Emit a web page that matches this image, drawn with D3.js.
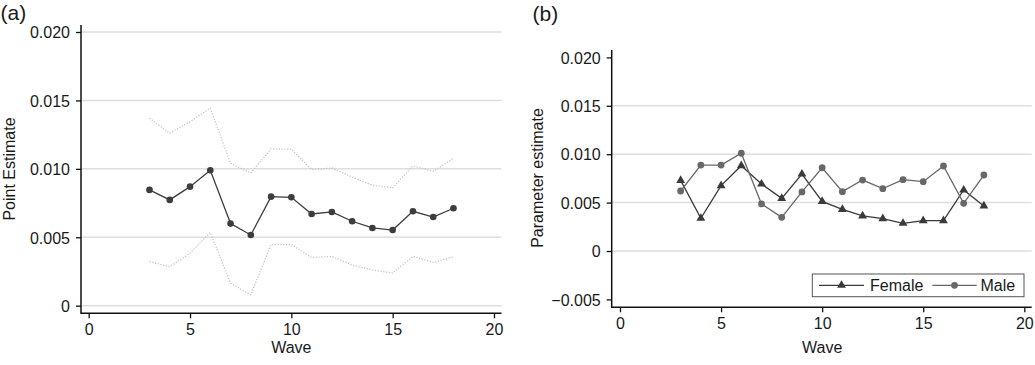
<!DOCTYPE html>
<html><head><meta charset="utf-8">
<script src="https://cdn.jsdelivr.net/npm/d3@7"></script>
<style>
body{margin:0;background:#fff;}
svg text{font-family:"Liberation Sans",Arial,Helvetica,sans-serif;fill:#1a1a1a;}
</style></head>
<body>
<svg id="c" width="1035" height="365"></svg>
<script>
const waves = [3,4,5,6,7,8,9,10,11,12,13,14,15,16,17,18];
const pointEst = [0.00846,0.00773,0.0087,0.0099,0.0060,0.00517,0.00797,0.00792,0.0067,0.00685,0.00617,0.00568,0.00553,0.0069,0.00648,0.00712];
const upperCI = [0.0137,0.0126,0.01345,0.01443,0.0104,0.0097,0.01146,0.01144,0.00995,0.01006,0.0094,0.0088,0.00862,0.01022,0.00982,0.01077];
const lowerCI = [0.00322,0.00285,0.00383,0.00535,0.00164,0.0008,0.00447,0.00447,0.00352,0.0036,0.00297,0.00261,0.00239,0.0036,0.00317,0.00356];
const female = [0.0073,0.00338,0.00675,0.00881,0.00692,0.00544,0.00795,0.00513,0.0043,0.00362,0.00334,0.00286,0.00313,0.00313,0.0063,0.00465];
const male = [0.0062,0.00888,0.00888,0.0101,0.00486,0.00348,0.0061,0.0086,0.00613,0.00733,0.00644,0.00737,0.00716,0.00878,0.00493,0.00785];
const xTicks = [0,5,10,15,20];
const yTicksA = [0,0.005,0.010,0.015,0.020];
const yTicksB = [-0.005,0,0.005,0.010,0.015,0.020];
const yGridB = [0,0.005,0.010,0.015];
const fmtY = v => v===0 ? "0" : (v<0 ? "\u2212"+Math.abs(v).toFixed(3) : v.toFixed(3));

const svg = d3.select("#c");
const FS = 16;

function panel(o){
  const g = svg.append("g");
  const x = d3.scaleLinear().domain([0,20]).range([o.x0,o.x20]);
  const y = d3.scaleLinear().domain([0,0.02]).range([o.y0,o.y20]);
  g.selectAll(".grid").data(o.grid).join("line")
    .attr("x1",o.left).attr("x2",o.right)
    .attr("y1",d=>y(d)).attr("y2",d=>y(d))
    .attr("stroke","#dedede").attr("stroke-width",1.5);
  const ya = g.append("g").attr("transform",`translate(${o.left},0)`)
    .call(d3.axisLeft(y).tickValues(o.yt).tickSize(5).tickSizeOuter(0).tickFormat(fmtY));
  ya.select(".domain").remove();
  ya.selectAll(".tick line").attr("stroke","#111").attr("stroke-width",1.3);
  ya.selectAll(".tick text").attr("x",-11).attr("dy","0.36em").style("font-size",FS+"px").attr("fill","#1a1a1a");
  g.append("line").attr("x1",o.left).attr("x2",o.left).attr("y1",o.top).attr("y2",o.bottom+0.7)
    .attr("stroke","#111").attr("stroke-width",1.5);
  const xa = g.append("g").attr("transform",`translate(0,${o.bottom})`)
    .call(d3.axisBottom(x).tickValues(xTicks).tickSize(5).tickSizeOuter(0));
  xa.select(".domain").remove();
  xa.selectAll(".tick line").attr("stroke","#111").attr("stroke-width",1.3);
  xa.selectAll(".tick text").attr("y",10).attr("dy","0.71em").style("font-size",FS+"px").attr("fill","#1a1a1a");
  g.append("line").attr("x1",o.left).attr("x2",o.right).attr("y1",o.bottom).attr("y2",o.bottom)
    .attr("stroke","#111").attr("stroke-width",1.5);
  g.append("text").attr("x",(x(0)+x(20))/2).attr("y",353).attr("text-anchor","middle")
    .style("font-size",FS+"px").text("Wave");
  g.append("text").attr("transform",`translate(${o.ytx},${o.yty}) rotate(-90)`)
    .attr("text-anchor","middle").style("font-size",FS+"px").text(o.ytitle);
  g.append("text").attr("x",o.lx).attr("y",o.ly).style("font-size","21px").text(o.label);
  return {g,x,y};
}

// Panel (a)
const A = panel({x0:88.7,x20:494,y0:305.7,y20:32,left:81,right:501.5,top:25,bottom:313.3,
  grid:yTicksA,yt:yTicksA,ytitle:"Point Estimate",ytx:15,yty:169,label:"(a)",lx:0.5,ly:19.5});
const lineA = d3.line().x((d,i)=>A.x(waves[i])).y(d=>A.y(d));
[upperCI,lowerCI].forEach(arr=>{
  A.g.append("path").attr("d",lineA(arr)).attr("fill","none")
    .attr("stroke","#c4c4c4").attr("stroke-width",1.3).attr("stroke-dasharray","1.2,1.6");
});
A.g.append("path").attr("d",lineA(pointEst)).attr("fill","none").attr("stroke","#3d3d3d").attr("stroke-width",1.3);
A.g.selectAll(".pt").data(pointEst).join("circle")
  .attr("cx",(d,i)=>A.x(waves[i])).attr("cy",d=>A.y(d)).attr("r",3.3).attr("fill","#3d3d3d");

// Panel (b)
const B = panel({x0:620,x20:1024.3,y0:251,y20:57.4,left:611.7,right:1031.7,top:50,bottom:307.3,
  grid:yGridB,yt:yTicksB,ytitle:"Parameter estimate",ytx:543,yty:178,label:"(b)",lx:532.5,ly:20.5});
const lineB = d3.line().x((d,i)=>B.x(waves[i])).y(d=>B.y(d));
const femaleCol = "#3a3a3a", maleCol = "#686868";
B.g.append("path").attr("d",lineB(female)).attr("fill","none").attr("stroke",femaleCol).attr("stroke-width",1.3);
B.g.append("path").attr("d",lineB(male)).attr("fill","none").attr("stroke",maleCol).attr("stroke-width",1.3);
const tri = d3.symbol().type(d3.symbolTriangle).size(34);
B.g.selectAll(".tri").data(female).join("path")
  .attr("d",tri).attr("transform",(d,i)=>`translate(${B.x(waves[i])},${B.y(d)})`).attr("fill",femaleCol);
B.g.selectAll(".cir").data(male).join("circle")
  .attr("cx",(d,i)=>B.x(waves[i])).attr("cy",d=>B.y(d)).attr("r",3.4).attr("fill",maleCol);

// legend
const lg = B.g.append("g");
lg.append("rect").attr("x",812.3).attr("y",274).attr("width",211.7).attr("height",22.7)
  .attr("fill","#fff").attr("stroke","#555").attr("stroke-width",1);
lg.append("line").attr("x1",819).attr("x2",864).attr("y1",285.3).attr("y2",285.3).attr("stroke",femaleCol).attr("stroke-width",1.3);
lg.append("path").attr("d",tri).attr("transform","translate(841.5,285.3)").attr("fill",femaleCol);
lg.append("text").attr("x",870).attr("y",291).style("font-size",FS+"px").text("Female");
lg.append("line").attr("x1",932.3).attr("x2",976.7).attr("y1",285.3).attr("y2",285.3).attr("stroke",maleCol).attr("stroke-width",1.3);
lg.append("circle").attr("cx",954.5).attr("cy",285.3).attr("r",3.4).attr("fill",maleCol);
lg.append("text").attr("x",980.5).attr("y",291).style("font-size",FS+"px").text("Male");
</script>
</body></html>
